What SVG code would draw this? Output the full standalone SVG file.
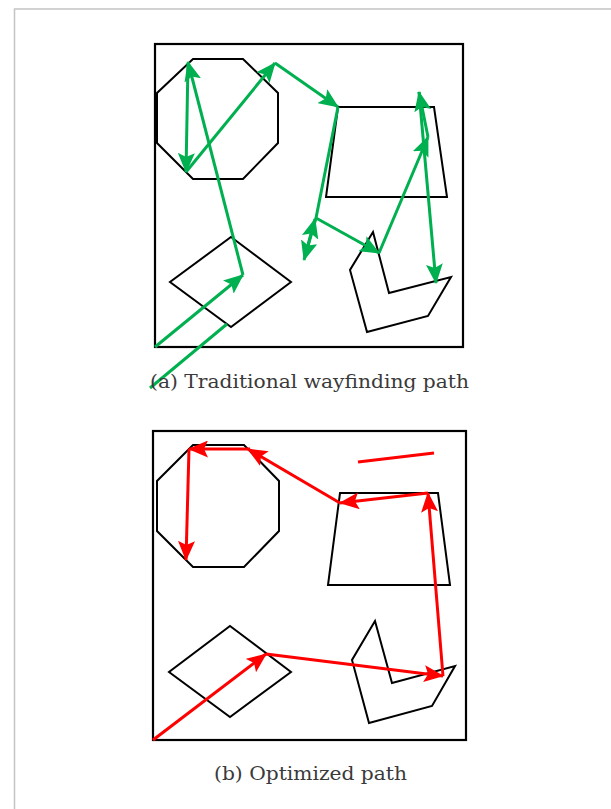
<svg xmlns="http://www.w3.org/2000/svg" width="611" height="809" viewBox="0 0 611 809">
  <defs>
    <style>
      .frame{fill:none;stroke:#000;stroke-width:2.2}
      .obs{fill:none;stroke:#000;stroke-width:2;stroke-linejoin:miter}
      .g{stroke:#00b050;stroke-width:3;fill:none}
      .r{stroke:#ff0000;stroke-width:3;fill:none}
      .cap{font-family:"DejaVu Serif","Liberation Serif",serif;font-size:19px;fill:#3a3a3a;text-anchor:middle}
    </style>
    <marker id="ag" viewBox="0 0 20 17" markerUnits="userSpaceOnUse" markerWidth="20" markerHeight="17" refX="19" refY="8.5" orient="auto">
      <path d="M0,0 L20,8.5 L0,17 L4,8.5 z" fill="#00b050"/>
    </marker>
    <marker id="ar" viewBox="0 0 20 17" markerUnits="userSpaceOnUse" markerWidth="20" markerHeight="17" refX="19" refY="8.5" orient="auto">
      <path d="M0,0 L20,8.5 L0,17 L4,8.5 z" fill="#ff0000"/>
    </marker>
  </defs>
  <rect width="611" height="809" fill="#fff"/>
  <path d="M14.5,809 V9 H611" fill="none" stroke="#c4c4c4" stroke-width="1.5"/>

  <g id="panel-a">
    <rect id="frame-a" class="frame" x="155" y="44" width="308" height="303"/>
    <g id="octagon-a"><polygon class="obs" points="193,59 243,59 278,93 278,143 243,179 193,179 157,143 157,93"/></g>
    <g id="trapezoid-a"><polygon class="obs" points="338,107 434,107 447,197 326,197"/></g>
    <g id="diamond-a"><polygon class="obs" points="231,237 291,282 231,327 170,282"/></g>
    <g id="chevron-a"><polygon class="obs" points="373,232 389,293 451,277 428,316 367,332 350,270"/></g>
    <g id="connectors-a">
      <line class="g" x1="150" y1="388" x2="227" y2="324"/>
      <line class="g" x1="155" y1="347" x2="243" y2="275" marker-end="url(#ag)"/>
      <line class="g" x1="243" y1="275" x2="188" y2="62" marker-end="url(#ag)"/>
      <line class="g" x1="188" y1="63" x2="186" y2="172" marker-end="url(#ag)"/>
      <line class="g" x1="186" y1="172" x2="275" y2="63" marker-end="url(#ag)"/>
      <line class="g" x1="275" y1="63" x2="338" y2="107" marker-end="url(#ag)"/>
      <line class="g" x1="338" y1="107" x2="316" y2="218"/>
      <line class="g" x1="316" y1="218" x2="304" y2="260" marker-end="url(#ag)"/>
      <line class="g" x1="305" y1="256" x2="315" y2="219" marker-end="url(#ag)"/>
      <line class="g" x1="316" y1="218" x2="379" y2="253" marker-end="url(#ag)"/>
      <line class="g" x1="379" y1="253" x2="428" y2="137" marker-end="url(#ag)"/>
      <line class="g" x1="428" y1="137" x2="419" y2="92" marker-end="url(#ag)"/>
      <line class="g" x1="419" y1="92" x2="436" y2="283" marker-end="url(#ag)"/>
    </g>
    <text class="cap" x="309.5" y="388" textLength="319" lengthAdjust="spacingAndGlyphs">(a) Traditional wayfinding path</text>
  </g>

  <g id="panel-b">
    <rect id="frame-b" class="frame" x="153" y="431" width="313" height="309"/>
    <g id="octagon-b"><polygon class="obs" points="193,445 244,445 279,481 279,531 244,567 193,567 157,531 157,481"/></g>
    <g id="trapezoid-b"><polygon class="obs" points="340,493 438,493 450,585 328,585"/></g>
    <g id="diamond-b"><polygon class="obs" points="230,626 291,672 230,717 169,672"/></g>
    <g id="chevron-b"><polygon class="obs" points="375,621 392,683 455,666 432,706 369,723 352,660"/></g>
    <g id="connectors-b">
      <line class="r" x1="358" y1="462" x2="434" y2="453"/>
      <line class="r" x1="153" y1="740" x2="266" y2="654" marker-end="url(#ar)"/>
      <line class="r" x1="266" y1="654" x2="443" y2="676" marker-end="url(#ar)"/>
      <line class="r" x1="443" y1="676" x2="428" y2="493" marker-end="url(#ar)"/>
      <line class="r" x1="428" y1="493" x2="340" y2="503" marker-end="url(#ar)"/>
      <line class="r" x1="340" y1="503" x2="248" y2="449" marker-end="url(#ar)"/>
      <line class="r" x1="250" y1="449" x2="189" y2="449" marker-end="url(#ar)"/>
      <line class="r" x1="189" y1="449" x2="186" y2="560" marker-end="url(#ar)"/>
    </g>
    <text class="cap" x="310.5" y="780" textLength="193" lengthAdjust="spacingAndGlyphs">(b) Optimized path</text>
  </g>
</svg>
